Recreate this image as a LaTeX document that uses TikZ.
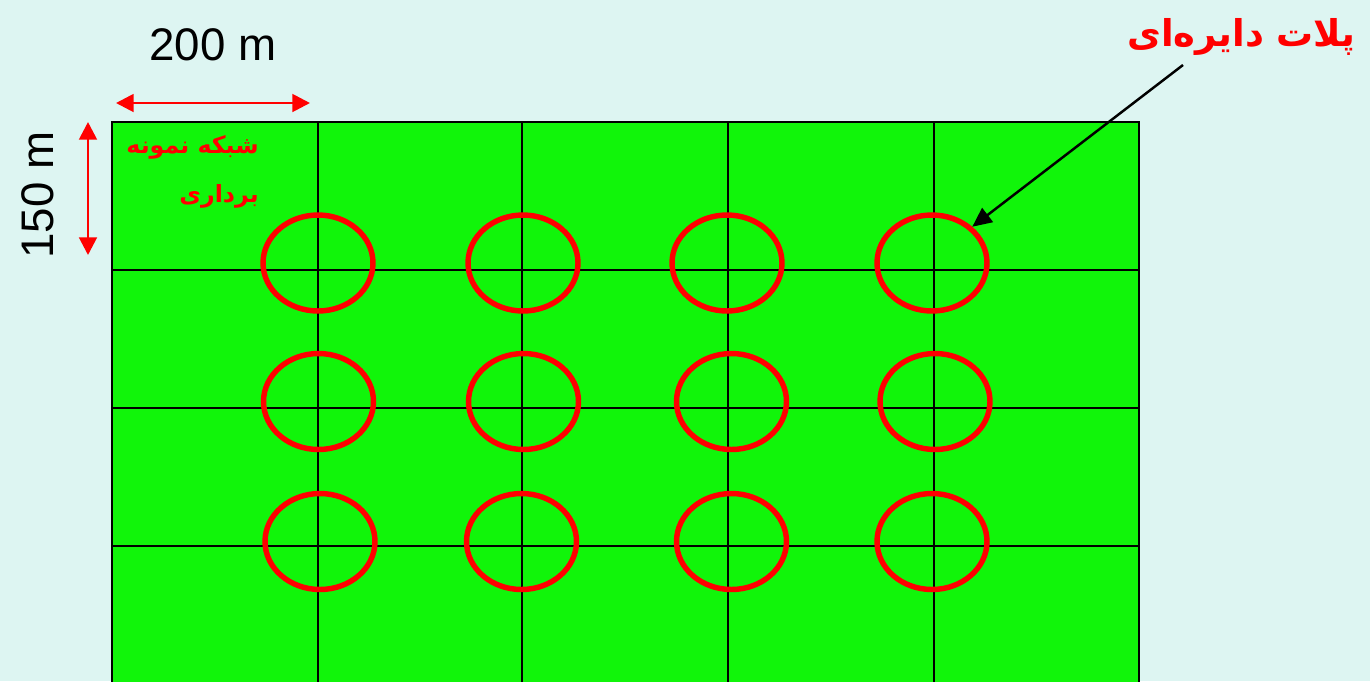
\documentclass[tikz,border=0pt]{standalone}
\usepackage{fontspec}
\setmainfont{Liberation Sans}
\newfontfamily\arabicfont[Script=Arabic]{DejaVu Sans}
\TeXXeTstate=1
\usepackage{xcolor}
\definecolor{bgcyan}{RGB}{221,245,242}
\definecolor{fieldgreen}{RGB}{17,245,10}
\definecolor{plotred}{RGB}{255,0,0}
\usetikzlibrary{arrows.meta,shapes.geometric}

\begin{document}
\begin{tikzpicture}[x=0.02cm,y=-0.02cm,
  plot/.style={draw=plotred,ellipse,line width=3.1pt,minimum width=2.2cm,minimum height=1.92cm,inner sep=0pt},
  dim/.style={plotred,line width=1.6pt,{Triangle[length=10pt,width=10pt]}-{Triangle[length=10pt,width=10pt]}},
  gridline/.style={black,line width=1.1pt}]
  % Background
  \clip (0,0) rectangle (1370,681);
  \fill[bgcyan] (0,0) rectangle (1370,681);
  % Sampling field
  \filldraw[fill=fieldgreen,draw=black,line width=1.6pt] (112,122) rectangle (1139,700);
  \foreach \x in {318,522,728,934} \draw[gridline] (\x,122) -- (\x,700);
  \foreach \y in {270,408,546} \draw[gridline] (112,\y) -- (1139,\y);
  % Circular plots
  \node[plot] (p11) at (318,263) {};
  \node[plot] (p12) at (523,263) {};
  \node[plot] (p13) at (727,263) {};
  \node[plot] (p14) at (932,263) {};
  \node[plot] (p21) at (318.5,401.5) {};
  \node[plot] (p22) at (523.5,401.5) {};
  \node[plot] (p23) at (731.5,401.5) {};
  \node[plot] (p24) at (935,401.5) {};
  \node[plot] (p31) at (320,541.5) {};
  \node[plot] (p32) at (521.5,541.5) {};
  \node[plot] (p33) at (731.5,541.5) {};
  \node[plot] (p34) at (932,541.5) {};
  % Dimensions
  \coordinate (wleft) at (116,103);
  \coordinate (wright) at (310,103);
  \coordinate (htop) at (88,122);
  \coordinate (hbot) at (88,255);
  \draw[dim] (wleft) -- (wright);
  \draw[dim] (htop) -- (hbot);
  \node[font=\fontsize{26}{30}\selectfont] (wlabel) at (213,45) {200 m};
  \node[font=\fontsize{26}{30}\selectfont,rotate=90] (hlabel) at (38,195) {150 m};
  % Labels
  \node[plotred,font=\arabicfont\bfseries\fontsize{13.5}{28}\selectfont,align=right,anchor=east] (gridlabel) at (265,172) {\beginR شبکه نمونه\endR\\\beginR برداری\endR};
  \node[plotred,font=\arabicfont\bfseries\fontsize{21}{28}\selectfont,anchor=east] (plotlabel) at (1362,37) {\beginR پلات دایره‌ای\endR};
  \coordinate (tail) at (1183,65);
  \draw[-{Triangle[length=11pt,width=10pt]},line width=1.4pt] (tail) -- (p14.42);
\end{tikzpicture}
\end{document}
